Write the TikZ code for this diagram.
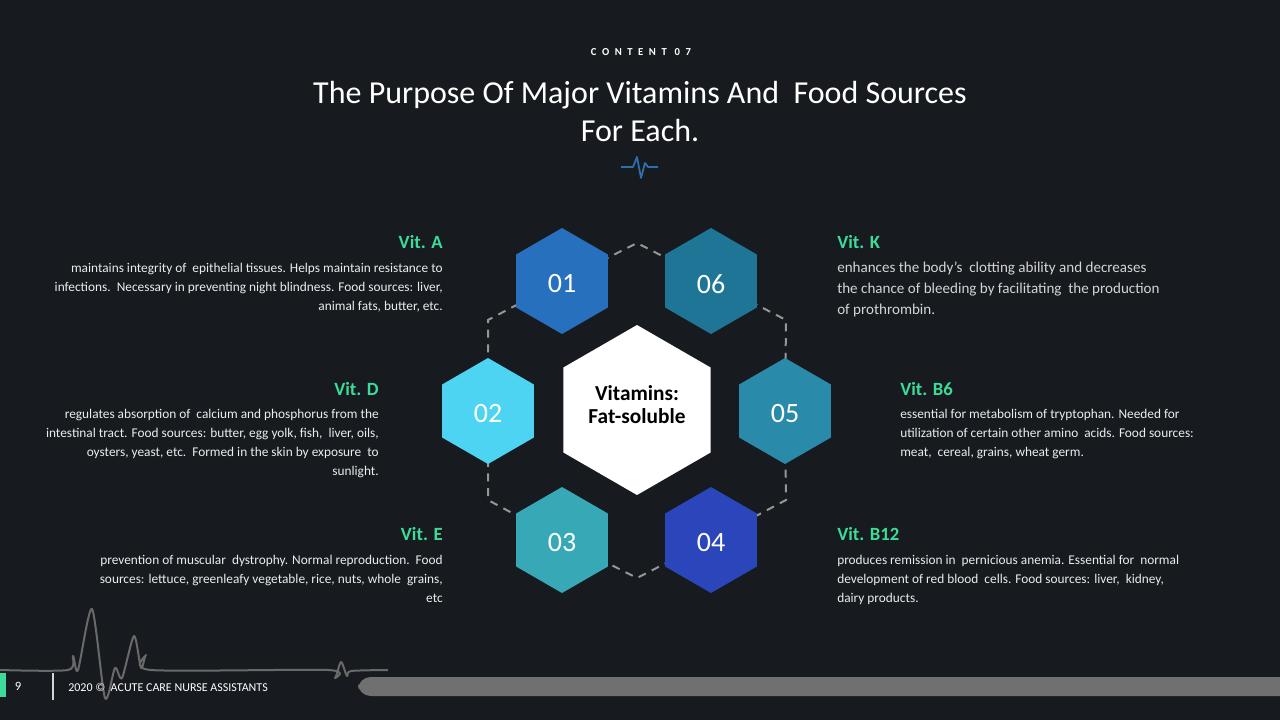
\documentclass[tikz,border=0pt]{standalone}
\usepackage{fontspec}
\setmainfont{Carlito}
\usepackage{xcolor}
\usepackage{tikz}
\usetikzlibrary{shapes.geometric,backgrounds}
\definecolor{figbg}{RGB}{23,27,32}
\definecolor{figgreen}{RGB}{60,220,152}
\definecolor{figtext}{RGB}{236,236,236}
\definecolor{figsoft}{RGB}{212,212,212}
\definecolor{figdash}{RGB}{150,150,150}
\definecolor{figbeat}{RGB}{105,105,105}
\definecolor{figicon}{RGB}{46,111,176}
\definecolor{hexone}{RGB}{38,112,189}
\definecolor{hextwo}{RGB}{77,212,242}
\definecolor{hexthree}{RGB}{55,169,182}
\definecolor{hexfour}{RGB}{43,69,186}
\definecolor{hexfive}{RGB}{42,138,170}
\definecolor{hexsix}{RGB}{31,117,149}
\tikzset{
  hexa/.style  ={regular polygon, regular polygon sides=6, shape border rotate=30,
                 minimum size=79.5pt, inner sep=0pt, text=white,
                 font=\fontsize{21}{24}\selectfont},
  hexc/.style  ={hexa, minimum size=127.5pt, fill=white, text=black,
                 font=\fontsize{16}{17.5}\selectfont\bfseries},
  dashl/.style ={draw=figdash, line width=1.5pt, dash pattern=on 6pt off 5pt},
  vit/.style   ={font=\fontsize{14}{16}\selectfont\bfseries, text=figgreen, inner sep=0pt},
  bodyr/.style ={font=\fontsize{10}{14.25}\selectfont, text=figtext, inner sep=0pt, align=right},
  bodyl/.style ={font=\fontsize{10}{14.25}\selectfont, text=figtext, inner sep=0pt, align=left},
}
\newcommand{\hexnum}[1]{\raisebox{-2.2pt}[\height][\depth]{#1}}

\begin{document}
\begin{tikzpicture}[x=0.75pt,y=-0.75pt]
  \useasboundingbox (0,0) rectangle (1280,720);
  % header
  \node[font=\fontsize{8}{9}\selectfont\bfseries\addfontfeature{LetterSpace=52}, text=white, inner sep=0pt]
    (kicker) at (641,52) {CONTENT 07};
  \node[font=\fontsize{24}{28.5}\selectfont, text=white, align=center, inner sep=0pt, anchor=north]
    (title) at (640,81.5) {The Purpose Of Major Vitamins And\ \ Food Sources\\For Each.};
  \draw[figicon, line width=1.3pt, line join=round]
    (621,167) -- (633,167) -- (637,157) -- (641,178) -- (645,163) -- (648,167) -- (658,167);
  % hexagons
  \node[hexc] (core) at (637,410)
    {\raisebox{2pt}[\height][\depth]{\begin{tabular}{@{}c@{}}Vitamins:\\Fat-soluble\end{tabular}}};
  \node[hexa, fill=hexone]   (h01) at (562,281) {\hexnum{01}};
  \node[hexa, fill=hexsix]   (h06) at (711,281) {\hexnum{06}};
  \node[hexa, fill=hextwo]   (h02) at (488,411) {\hexnum{02}};
  \node[hexa, fill=hexfive]  (h05) at (785,411) {\hexnum{05}};
  \node[hexa, fill=hexthree] (h03) at (562,540) {\hexnum{03}};
  \node[hexa, fill=hexfour]  (h04) at (711,540) {\hexnum{04}};
  \coordinate (vtop) at (637,243);
  \coordinate (vur) at (786,320);
  \coordinate (vlr) at (786,500);
  \coordinate (vbot) at (637,578);
  \coordinate (vll) at (488,500);
  \coordinate (vul) at (488,320);
  \begin{pgfonlayer}{background}
    \fill[figbg] (0,0) rectangle (1280,720);
    \draw[dashl] (h01.center) -- (vtop) -- (h06.center);
    \draw[dashl] (h06.center) -- (vur) -- (h05.center);
    \draw[dashl] (h05.center) -- (vlr) -- (h04.center);
    \draw[dashl] (h04.center) -- (vbot) -- (h03.center);
    \draw[dashl] (h03.center) -- (vll) -- (h02.center);
    \draw[dashl] (h02.center) -- (vul) -- (h01.center);
  \end{pgfonlayer}
  % left column
  \node[vit, anchor=base east] (vita) at (443,248) {Vit. A};
  \node[bodyr, anchor=north east] (texta) at (443,263)
    {maintains integrity of\ \ epithelial tissues. Helps maintain resistance to\\
     infections.\ \ Necessary in preventing night blindness. Food sources: liver,\\
     animal fats, butter, etc.};
  \node[vit, anchor=base east] (vitd) at (379,395) {Vit. D};
  \node[bodyr, anchor=north east] (textd) at (379,409)
    {regulates absorption of\ \ calcium and phosphorus from the\\
     intestinal tract. Food sources: butter, egg yolk, fish,\ \ liver, oils,\\
     oysters, yeast, etc.\ \ Formed in the skin by exposure\ \ to\\
     sunlight.};
  \node[vit, anchor=base east] (vite) at (443,540) {Vit. E};
  \node[bodyr, anchor=north east] (texte) at (443,555)
    {prevention of muscular\ \ dystrophy. Normal reproduction.\ \ Food\\
     sources: lettuce, greenleafy vegetable, rice, nuts, whole\ \ grains,\\
     etc};
  % right column
  \node[vit, anchor=base west] (vitk) at (837,248) {Vit. K};
  \node[bodyl, anchor=north west, font=\fontsize{11.3}{15.75}\selectfont, text=figsoft] (textk) at (837,262)
    {enhances the body's\ \ clotting ability and decreases\\
     the chance of bleeding by facilitating\ \ the production\\
     of prothrombin.};
  \node[vit, anchor=base west] (vitbsix) at (900,395) {Vit. B6};
  \node[bodyl, anchor=north west] (textbsix) at (900,409)
    {essential for metabolism of tryptophan. Needed for\\
     utilization of certain other amino\ \ acids. Food sources:\\
     meat,\ \ cereal, grains, wheat germ.};
  \node[vit, anchor=base west] (vitbtw) at (837,540) {Vit. B12};
  \node[bodyl, anchor=north west] (textbtw) at (837,555)
    {produces remission in\ \ pernicious anemia. Essential for\ \ normal\\
     development of red blood\ \ cells. Food sources: liver,\ \ kidney,\\
     dairy products.};
  % footer
  \draw[figbeat, line width=1.5pt, line join=round]
    plot[smooth, tension=0.45] coordinates {(0,670) (68,670) (73,656) (78,670) (92,609)
      (105,698) (115,668) (122,678) (134,636) (141,668) (146,655) (151,670) (328,670)
      (335,678) (341,662) (347,676) (351,671) (388,670)};
  \fill[figbeat!95!white, rounded corners=9.5pt] (358,677) rectangle (1300,696);
  \fill[figgreen] (0,673) rectangle (6,697);
  \node[font=\fontsize{9.5}{11}\selectfont, text=white, inner sep=0pt] (pageno) at (18,686) {9};
  \draw[figsoft, line width=1.5pt] (53,673) -- (53,700);
  \node[font=\fontsize{9}{10}\selectfont, text=white, inner sep=0pt, anchor=west] (credit) at (68,687)
    {2020 ©\ \ ACUTE CARE NURSE ASSISTANTS};
\end{tikzpicture}
\end{document}
